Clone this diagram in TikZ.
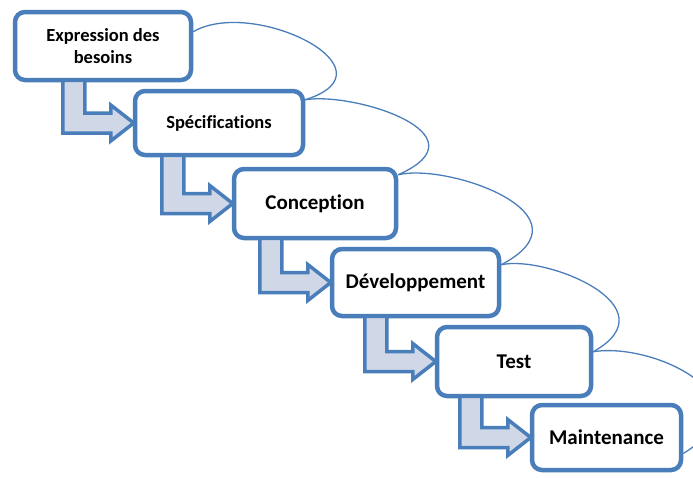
\documentclass[tikz,border=0pt]{standalone}
\usepackage{fontspec}
\setmainfont{Carlito}[Ligatures=NoCommon]
\usepackage{xcolor}
\usepackage{tikz}
\usetikzlibrary{positioning,calc}
\definecolor{stepblue}{HTML}{4A7EBB}
\definecolor{stepfill}{HTML}{D0D8E8}

\begin{document}
\begin{tikzpicture}[x=1pt,y=-1pt,
		phase/.style={draw=stepblue,line width=4.5pt,rounded corners=10pt,fill=white,align=center,font=\bfseries\fontsize{21}{24}\selectfont},
		smalltext/.style={font=\bfseries\fontsize{18.5}{21.5}\selectfont},
		stair/.style={draw=stepblue,fill=stepfill,line width=3.5pt,line join=miter},
		loopback/.style={draw=stepblue,line width=1.3pt}]
		\clip (0,0) rectangle (693,477);
		\node[phase,smalltext,minimum width=176pt,minimum height=68pt] (b1) at (103,46) {Expression des\\besoins};
		\node[phase,smalltext,minimum width=168pt,minimum height=64pt] (b2) at (219,123) {Spécifications};
		\node[phase,minimum width=162pt,minimum height=69pt] (b3) at (315,203.5) {Conception};
		\node[phase,minimum width=167pt,minimum height=67pt] (b4) at (415.5,282.5) {Développement};
		\node[phase,minimum width=154pt,minimum height=69pt] (b5) at (514,361.5) {Test};
		\node[phase,minimum width=149pt,minimum height=65pt] (b6) at (606.5,437.5) {Maintenance};
	
		\foreach \a/\b in {b1/b2,b2/b3,b3/b4,b4/b5,b5/b6}
			\draw[stair] let \p1=(\a.south), \p2=(\b.west) in
				(\x2-70,\y1+2) -- (\x2-48,\y1+2) -- (\x2-48,\y2+10) -- (\x2-22,\y2+10) -- (\x2-22,\y2+18)
				-- (\x2+1,\y2) -- (\x2-22,\y2-18) -- (\x2-22,\y2-10) -- (\x2-70,\y2-10) -- cycle;
	
		\draw[loopback] ([yshift=-22pt]b1.north east) .. controls +(60,-35) and +(95,-30) .. ([yshift=-11pt]b2.north east);
		\draw[loopback] ([yshift=-11pt]b2.north east) .. controls +(50,-8) and +(90,-40) .. ([yshift=-8pt]b3.north east);
		\draw[loopback] ([yshift=-8pt]b3.north east) .. controls +(50,-12) and +(95,-50) .. ([yshift=-18pt]b4.north east);
		\draw[loopback] ([yshift=-18pt]b4.north east) .. controls +(45,-10) and +(80,-45) .. ([yshift=-27pt]b5.north east);
		\draw[loopback] ([yshift=-27pt]b5.north east) .. controls +(60,-10) and +(90,-55) .. ([yshift=-16pt]b6.east);
	\end{tikzpicture}
\end{document}
